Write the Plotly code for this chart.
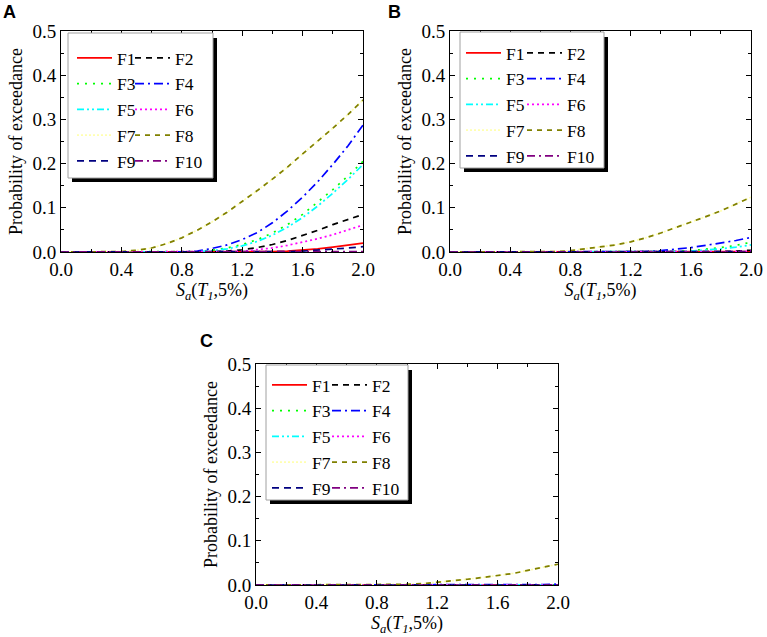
import plotly.graph_objects as go

W, H = 767, 637

sa = [0.0, 0.1, 0.2, 0.3, 0.4, 0.5, 0.6, 0.7, 0.8, 0.9, 1.0,
      1.1, 1.2, 1.3, 1.4, 1.5, 1.6, 1.7, 1.8, 1.9, 2.0]

names = ["F1", "F2", "F3", "F4", "F5", "F6", "F7", "F8", "F9", "F10"]

# Panel A
A_F1 = [0, 0, 0, 0, 0, 0, 0, 0, 0, 0, 0, 0, 0, 0.0005, 0.001, 0.002, 0.004, 0.007, 0.011, 0.015, 0.020]
A_F2 = [0, 0, 0, 0, 0, 0, 0, 0, 0, 0, 0.0005, 0.002, 0.005, 0.010, 0.017, 0.026, 0.037, 0.049, 0.062, 0.074, 0.085]
A_F3 = [0, 0, 0, 0, 0, 0, 0, 0, 0, 0.001, 0.004, 0.009, 0.017, 0.028, 0.043, 0.062, 0.085, 0.112, 0.141, 0.172, 0.205]
A_F4 = [0, 0, 0, 0, 0, 0, 0, 0, 0.0005, 0.002, 0.008, 0.016, 0.028, 0.044, 0.066, 0.093, 0.124, 0.159, 0.198, 0.240, 0.287]
A_F5 = [0, 0, 0, 0, 0, 0, 0, 0, 0, 0.0005, 0.003, 0.007, 0.014, 0.024, 0.038, 0.056, 0.078, 0.104, 0.133, 0.164, 0.198]
A_F6 = [0, 0, 0, 0, 0, 0, 0, 0, 0, 0, 0, 0.001, 0.002, 0.005, 0.009, 0.015, 0.022, 0.030, 0.039, 0.050, 0.061]
A_F7 = [0, 0, 0, 0, 0.001, 0.004, 0.009, 0.019, 0.032, 0.049, 0.068, 0.090, 0.114, 0.139, 0.165, 0.192, 0.222, 0.250, 0.280, 0.311, 0.344]
A_F8 = [0, 0, 0, 0, 0.001, 0.004, 0.009, 0.019, 0.032, 0.049, 0.068, 0.090, 0.114, 0.139, 0.165, 0.192, 0.222, 0.250, 0.280, 0.311, 0.344]
A_F9 = [0, 0, 0, 0, 0, 0, 0, 0, 0, 0, 0, 0, 0, 0, 0, 0.001, 0.002, 0.004, 0.006, 0.009, 0.012]
A_F10 = [0, 0, 0, 0, 0, 0, 0, 0, 0, 0, 0, 0, 0, 0, 0, 0, 0, 0, 0.0005, 0.0005, 0.001]

# Panel B
B_F1 = [0, 0, 0, 0, 0, 0, 0, 0, 0, 0, 0, 0, 0, 0, 0, 0, 0, 0, 0, 0.0005, 0.001]
B_F2 = [0, 0, 0, 0, 0, 0, 0, 0, 0, 0, 0, 0, 0, 0, 0, 0, 0, 0, 0.001, 0.002, 0.004]
B_F3 = [0, 0, 0, 0, 0, 0, 0, 0, 0, 0, 0, 0, 0, 0, 0, 0.001, 0.003, 0.006, 0.010, 0.015, 0.022]
B_F4 = [0, 0, 0, 0, 0, 0, 0, 0, 0, 0, 0, 0, 0, 0.001, 0.003, 0.006, 0.010, 0.015, 0.020, 0.026, 0.033]
B_F5 = [0, 0, 0, 0, 0, 0, 0, 0, 0, 0, 0, 0, 0, 0, 0, 0.001, 0.002, 0.004, 0.007, 0.011, 0.016]
B_F6 = [0, 0, 0, 0, 0, 0, 0, 0, 0, 0, 0, 0, 0, 0, 0, 0, 0, 0, 0.0005, 0.001, 0.002]
B_F7 = [0, 0, 0, 0, 0, 0, 0, 0.001, 0.003, 0.007, 0.011, 0.016, 0.023, 0.032, 0.043, 0.055, 0.068, 0.080, 0.093, 0.108, 0.124]
B_F8 = [0, 0, 0, 0, 0, 0, 0, 0.001, 0.003, 0.007, 0.011, 0.016, 0.023, 0.032, 0.043, 0.055, 0.068, 0.080, 0.093, 0.108, 0.124]
B_F9 = [0, 0, 0, 0, 0, 0, 0, 0, 0, 0, 0, 0, 0, 0, 0, 0, 0, 0, 0, 0.0005, 0.001]
B_F10 = [0, 0, 0, 0, 0, 0, 0, 0, 0, 0, 0, 0, 0, 0, 0, 0, 0, 0, 0, 0, 0]

# Panel C
C_F1 = [0, 0, 0, 0, 0, 0, 0, 0, 0, 0, 0, 0, 0, 0, 0, 0, 0, 0, 0, 0, 0]
C_F2 = [0, 0, 0, 0, 0, 0, 0, 0, 0, 0, 0, 0, 0, 0, 0, 0, 0, 0, 0, 0, 0.0005]
C_F3 = [0, 0, 0, 0, 0, 0, 0, 0, 0, 0, 0, 0, 0, 0, 0, 0, 0, 0, 0, 0, 0.0005]
C_F4 = [0, 0, 0, 0, 0, 0, 0, 0, 0, 0, 0, 0, 0, 0, 0, 0, 0, 0, 0.001, 0.001, 0.002]
C_F5 = [0, 0, 0, 0, 0, 0, 0, 0, 0, 0, 0, 0, 0, 0, 0, 0, 0, 0, 0, 0, 0.0005]
C_F6 = [0, 0, 0, 0, 0, 0, 0, 0, 0, 0, 0, 0, 0, 0, 0, 0, 0, 0, 0, 0, 0]
C_F7 = [0, 0, 0, 0, 0, 0, 0, 0, 0, 0.0005, 0.0015, 0.003, 0.006, 0.009, 0.013, 0.017, 0.021, 0.026, 0.033, 0.040, 0.047]
C_F8 = [0, 0, 0, 0, 0, 0, 0, 0, 0, 0.0005, 0.0015, 0.003, 0.006, 0.009, 0.013, 0.017, 0.021, 0.026, 0.033, 0.040, 0.047]
C_F9 = [0, 0, 0, 0, 0, 0, 0, 0, 0, 0, 0, 0, 0, 0, 0, 0, 0, 0, 0, 0, 0]
C_F10 = [0, 0, 0, 0, 0, 0, 0, 0, 0, 0, 0, 0, 0, 0, 0, 0, 0, 0, 0, 0, 0]

panel_labels = ["A", "B", "C"]
x_ticks = [0.0, 0.4, 0.8, 1.2, 1.6, 2.0]
y_ticks = [0.0, 0.1, 0.2, 0.3, 0.4, 0.5]

panels = [
    [A_F1, A_F2, A_F3, A_F4, A_F5, A_F6, A_F7, A_F8, A_F9, A_F10],
    [B_F1, B_F2, B_F3, B_F4, B_F5, B_F6, B_F7, B_F8, B_F9, B_F10],
    [C_F1, C_F2, C_F3, C_F4, C_F5, C_F6, C_F7, C_F8, C_F9, C_F10],
]

colors = ["#FF0000", "#000000", "#00FF00", "#0000FF", "#00FFFF",
          "#FF00FF", "#FFFFB0", "#808000", "#000080", "#800080"]
dashes = ["solid", "6px,5px", "2px,6px", "9px,4px,2px,4px", "7px,3px,2px,3px,2px,3px",
          "2px,3px", "2px,2px", "5px,5px", "7px,5px", "8px,4px,2px,4px"]

SERIF = "Liberation Serif"

# pixel boxes of the three plot areas (left, top, right, bottom)
boxes = [(61, 31, 363, 252), (450, 31, 751, 252), (256, 364, 558, 585)]
# legend box (left, top, right, bottom) in pixels
leg_boxes = [(68, 33, 213, 178), (460, 32, 604, 168), (266, 365, 408, 500)]
# legend column positions (x col1, x col2, top)
leg_pos = [(72, 130, 40), (461, 522, 35), (267, 327, 367)]
label_pos = [(9, 12), (394, 12), (206, 341)]


def px(x):
    return x / W


def py(y):
    return 1 - y / H


fig = go.Figure()
shapes = []
annotations = []
layout = {}

for p in range(3):
    sfx = "" if p == 0 else str(p + 1)
    xa, ya = "x" + sfx, "y" + sfx
    l, t, r, b = boxes[p]
    for i in range(10):
        leg_idx = 2 * p + (i % 2) + 1
        leg = "legend" if leg_idx == 1 else "legend" + str(leg_idx)
        fig.add_trace(go.Scatter(
            x=sa, y=panels[p][i], mode="lines", name=names[i],
            line=dict(color=colors[i], width=1.7, dash=dashes[i]),
            xaxis=xa, yaxis=ya, legend=leg, showlegend=True))

    axis_common = dict(
        showgrid=False, zeroline=False, showline=True, linecolor="black",
        linewidth=1, mirror="ticks", ticks="inside", ticklen=5, tickcolor="black",
        tickfont=dict(family=SERIF, size=19, color="black"),
        tickformat=".1f", automargin=False,
    )
    layout["xaxis" + sfx] = dict(
        axis_common, domain=[px(l), px(r)], range=[0, 2.0], anchor=ya,
        tickvals=x_ticks, minor=dict(dtick=0.2, ticks="inside", ticklen=3, tickcolor="black"),
        title=dict(text="<i>S</i><sub><i>a</i></sub>(<i>T</i><sub><i>1</i></sub>,5%)",
                   font=dict(family=SERIF, size=18, color="black"), standoff=3),
    )
    layout["yaxis" + sfx] = dict(
        axis_common, domain=[py(b), py(t)], range=[0, 0.5], anchor=xa,
        tickvals=y_ticks, minor=dict(dtick=0.05, ticks="inside", ticklen=3, tickcolor="black"),
        title=dict(text="Probability of exceedance",
                   font=dict(family=SERIF, size=18, color="black"), standoff=5),
    )

    bl, bt, br, bb = leg_boxes[p]
    shapes.append(dict(type="rect", xref="paper", yref="paper",
                       x0=px(bl + 4), x1=px(br + 4), y0=py(bb + 4), y1=py(bt + 5),
                       fillcolor="black", line=dict(width=0), layer="above"))
    shapes.append(dict(type="rect", xref="paper", yref="paper",
                       x0=px(bl), x1=px(br), y0=py(bb), y1=py(bt),
                       fillcolor="white", line=dict(color="#A0A0A0", width=1), layer="above"))

    c1, c2, top = leg_pos[p]
    for k, cx in enumerate([c1, c2]):
        idx = 2 * p + k + 1
        key = "legend" if idx == 1 else "legend" + str(idx)
        layout[key] = dict(
            x=px(cx), y=py(top), xanchor="left", yanchor="top",
            bgcolor="rgba(0,0,0,0)", borderwidth=0, itemwidth=35,
            font=dict(family=SERIF, size=17.5, color="black"),
            tracegroupgap=0, orientation="v",
        )

    lx, ly = label_pos[p]
    annotations.append(dict(text="<b>" + panel_labels[p] + "</b>", xref="paper", yref="paper",
                            x=px(lx), y=py(ly), xanchor="center", yanchor="middle",
                            showarrow=False,
                            font=dict(family="Liberation Sans", size=18, color="black")))

fig.update_layout(
    width=W, height=H, margin=dict(l=0, r=0, t=0, b=0, autoexpand=False),
    paper_bgcolor="white", plot_bgcolor="white",
    font=dict(family=SERIF, size=18, color="black"),
    shapes=shapes, annotations=annotations,
    **layout,
)

fig.write_html("out.html", config={"displayModeBar": False},
               post_script="document.body.style.margin='0';")
